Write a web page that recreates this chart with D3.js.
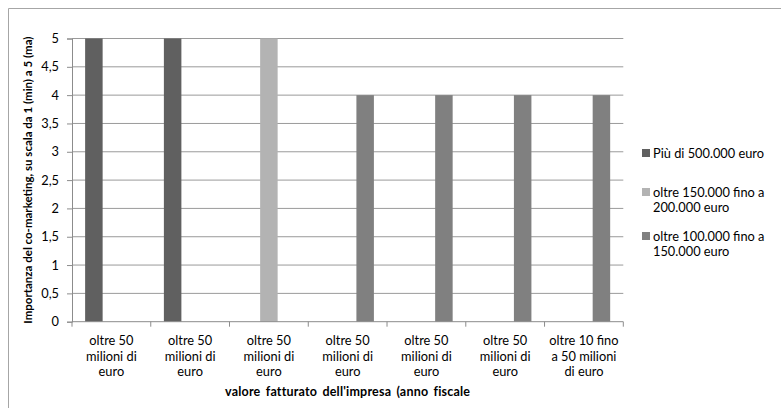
<!DOCTYPE html>
<html>
<head>
<meta charset="utf-8">
<script src="https://cdn.jsdelivr.net/npm/d3@7"></script>
<style>
  html, body { margin: 0; padding: 0; background: #fff; }
  svg { display: block; font-family: Lato, "Open Sans", sans-serif; }
</style>
</head>
<body>
<svg id="chart" width="781" height="408"></svg>
<script>
// Categories (company turnover bands) and the three respondent series
const categories = [
  "oltre 50 milioni di euro",
  "oltre 50 milioni di euro",
  "oltre 50 milioni di euro",
  "oltre 50 milioni di euro",
  "oltre 50 milioni di euro",
  "oltre 50 milioni di euro",
  "oltre 10 fino a 50 milioni di euro"
];
const categoryLines = [
  ["oltre 50", "milioni di", "euro"],
  ["oltre 50", "milioni di", "euro"],
  ["oltre 50", "milioni di", "euro"],
  ["oltre 50", "milioni di", "euro"],
  ["oltre 50", "milioni di", "euro"],
  ["oltre 50", "milioni di", "euro"],
  ["oltre 10 fino", "a 50 milioni", "di euro"]
];
const seriesNames = [
  "Più di 500.000 euro",
  "oltre 150.000 fino a 200.000 euro",
  "oltre 100.000 fino a 150.000 euro"
];
const legendLines = [
  ["Più di 500.000 euro"],
  ["oltre 150.000 fino a", "200.000 euro"],
  ["oltre 100.000 fino a", "150.000 euro"]
];
const seriesA = [5, 5, null, null, null, null, null];
const seriesB = [null, null, 5, null, null, null, null];
const seriesC = [null, null, null, 4, 4, 4, 4];
const seriesColors = ["#606060", "#b3b3b3", "#808080"];
const yTicks = [0, 0.5, 1, 1.5, 2, 2.5, 3, 3.5, 4, 4.5, 5];
const yTitle = "Importanza del co-marketing, su scala da 1 (min) a 5 (ma)";
const xTitle = "valore fatturato dell'impresa (anno fiscale";

const allSeries = [seriesA, seriesB, seriesC];
const svg = d3.select("#chart");

const plot = { left: 72, right: 623.3, top: 38.5, bottom: 321.7 };
const idx = categories.map((_, i) => i);

// outer chart frame (only left and top edges fall inside the canvas)
svg.append("path")
  .attr("d", "M8.5,408V8.5H781")
  .attr("fill", "none")
  .attr("stroke", "#a6a6a6")
  .attr("stroke-width", 1);

const x = d3.scaleBand().domain(idx).range([plot.left, plot.right])
  .paddingInner(0).paddingOuter(0);
// clustered bars with a 150% gap: 3 bars + 1.5 bar widths per category
const xInner = d3.scaleBand().domain([0, 1, 2])
  .range([0, x.bandwidth()]).paddingInner(0).paddingOuter(0.75);
const y = d3.scaleLinear().domain([0, 5]).range([plot.bottom, plot.top]);

// horizontal gridlines
svg.append("g").selectAll("line")
  .data(yTicks.filter(t => t > 0))
  .join("line")
  .attr("x1", plot.left).attr("x2", plot.right)
  .attr("y1", d => y(d)).attr("y2", d => y(d))
  .attr("stroke", "#9a9a9a").attr("stroke-width", 1);

// bars
allSeries.forEach((vals, s) => {
  svg.append("g").selectAll("rect")
    .data(vals.map((v, i) => ({ i, v })).filter(d => d.v != null))
    .join("rect")
    .attr("x", d => x(d.i) + xInner(s))
    .attr("width", xInner.bandwidth())
    .attr("y", d => y(d.v))
    .attr("height", d => y(0) - y(d.v))
    .attr("fill", seriesColors[s]);
});

// y axis
const yAxis = svg.append("g")
  .attr("transform", `translate(${plot.left},0)`)
  .call(d3.axisLeft(y).tickValues(yTicks).tickSize(5).tickPadding(8)
    .tickFormat(d => String(d).replace(".", ",")));
yAxis.select(".domain").attr("stroke", "#8c8c8c");
yAxis.selectAll(".tick line").attr("stroke", "#8c8c8c");
yAxis.selectAll(".tick text").attr("font-size", 12.8).attr("fill", "#000")
  .attr("font-family", "Lato, sans-serif");

// x axis: boundary ticks between categories
const xAxisG = svg.append("g");
xAxisG.append("line")
  .attr("x1", plot.left).attr("x2", plot.right)
  .attr("y1", y(0)).attr("y2", y(0))
  .attr("stroke", "#8c8c8c");
xAxisG.selectAll("line.tk")
  .data(d3.range(categories.length + 1))
  .join("line").attr("class", "tk")
  .attr("x1", i => plot.left + i * x.bandwidth())
  .attr("x2", i => plot.left + i * x.bandwidth())
  .attr("y1", y(0)).attr("y2", y(0) + 5)
  .attr("stroke", "#8c8c8c");

// category labels (wrapped)
const catText = svg.append("g").selectAll("text")
  .data(idx).join("text")
  .attr("text-anchor", "middle")
  .attr("font-size", 12.8)
  .attr("fill", "#000");
catText.each(function (i) {
  const t = d3.select(this);
  categoryLines[i].forEach((ln, k) => {
    t.append("tspan")
      .attr("x", x(i) + x.bandwidth() / 2)
      .attr("y", 345 + k * 15.5)
      .text(ln);
  });
});

// axis titles
svg.append("text")
  .attr("x", (plot.left + plot.right) / 2)
  .attr("y", 396)
  .attr("text-anchor", "middle")
  .attr("font-size", 12.5)
  .attr("font-weight", "bold")
  .attr("letter-spacing", 0.2)
  .attr("word-spacing", 2)
  .text(xTitle);

svg.append("text")
  .attr("transform", `translate(32,${(plot.top + plot.bottom) / 2}) rotate(-90)`)
  .attr("text-anchor", "middle")
  .attr("font-size", 11.5)
  .attr("font-weight", "bold")
  .text(yTitle);

// legend
const legendY = [153, 192, 236];
const legend = svg.append("g").selectAll("g")
  .data(seriesNames).join("g")
  .attr("transform", (d, i) => `translate(642,${legendY[i]})`);
legend.append("rect")
  .attr("x", 0).attr("y", -4).attr("width", 8).attr("height", 8)
  .attr("fill", (d, i) => seriesColors[i]);
legend.append("text")
  .attr("font-size", 12.8)
  .attr("fill", "#000")
  .each(function (d, i) {
    const t = d3.select(this);
    legendLines[i].forEach((ln, k) => {
      t.append("tspan").attr("x", 11).attr("y", 4.5 + k * 15).text(ln);
    });
  });
</script>
</body>
</html>
